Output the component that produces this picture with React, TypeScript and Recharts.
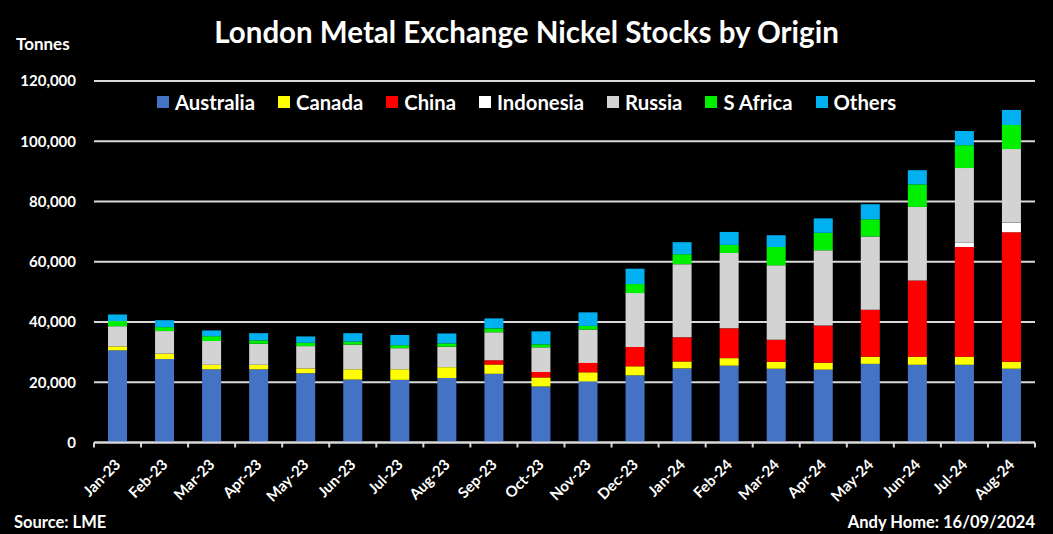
import React from "react";
import { BarChart, Bar, XAxis, YAxis, CartesianGrid } from "recharts";

const months = [
  "Jan-23", "Feb-23", "Mar-23", "Apr-23", "May-23", "Jun-23", "Jul-23", "Aug-23", "Sep-23", "Oct-23",
  "Nov-23", "Dec-23", "Jan-24", "Feb-24", "Mar-24", "Apr-24", "May-24", "Jun-24", "Jul-24", "Aug-24",
];
const australia = [30.6, 27.7, 24.3, 24.3, 23.0, 20.9, 20.8, 21.4, 22.8, 18.6, 20.3, 22.3, 24.6, 25.5, 24.5, 24.2, 26.1, 25.8, 25.8, 24.5];
const canada = [1.3, 1.8, 1.5, 1.5, 1.6, 3.4, 3.5, 3.6, 3.1, 3.0, 3.0, 3.0, 2.3, 2.5, 2.3, 2.3, 2.4, 2.7, 2.7, 2.3];
const china = [0, 0, 0, 0, 0, 0, 0, 0, 1.4, 1.8, 3.1, 6.4, 8.0, 9.9, 7.3, 12.3, 15.6, 25.3, 36.4, 43.0];
const indonesia = [0, 0, 0, 0, 0, 0, 0, 0, 0, 0, 0, 0, 0, 0, 0, 0, 0, 0, 1.4, 3.2];
const russia = [6.7, 7.5, 7.9, 7.0, 7.4, 8.2, 7.0, 6.8, 9.3, 8.2, 11.1, 17.9, 24.3, 25.0, 24.7, 25.0, 24.3, 24.4, 24.8, 24.4];
const sAfrica = [1.7, 1.3, 1.6, 1.1, 1.1, 1.0, 1.0, 1.1, 1.3, 1.0, 1.2, 3.0, 3.3, 2.7, 6.1, 5.8, 5.7, 7.5, 7.6, 8.0];
const others = [2.2, 2.3, 1.9, 2.4, 2.1, 2.8, 3.4, 3.3, 3.3, 4.3, 4.5, 5.1, 4.0, 4.3, 3.9, 4.8, 5.0, 4.7, 4.7, 5.0];
const yTicks = [0, 20000, 40000, 60000, 80000, 100000, 120000];

const seriesList = [
  { key: "Australia", values: australia, color: "#4472C4" },
  { key: "Canada", values: canada, color: "#FFFF00" },
  { key: "China", values: china, color: "#FF0000" },
  { key: "Indonesia", values: indonesia, color: "#FFFFFF" },
  { key: "Russia", values: russia, color: "#D3D3D3" },
  { key: "S Africa", values: sAfrica, color: "#00F000" },
  { key: "Others", values: others, color: "#00B0F0" },
];

const data = months.map((m, i) => {
  const row: Record<string, number | string> = { month: m };
  seriesList.forEach((s) => {
    row[s.key] = Math.round(s.values[i] * 1000);
  });
  return row;
});

const FONT = "Lato, 'Open Sans', sans-serif";
const AXIS_COLOR = "#D9D9D9";

const XTick = (props: any) => {
  const { x, y, payload, index, visibleTicksCount } = props;
  const half = payload.offset || 0;
  const axisY = y - 8;
  const isLast = index === (visibleTicksCount ? visibleTicksCount - 1 : months.length - 1);
  return (
    <g>
      <line x1={x - half} x2={x - half} y1={axisY} y2={axisY + 5} stroke={AXIS_COLOR} strokeWidth={2} />
      {isLast && (
        <line x1={x + half} x2={x + half} y1={axisY} y2={axisY + 5} stroke={AXIS_COLOR} strokeWidth={2} />
      )}
      <g transform={`translate(${x + 4},${axisY + 23})`}>
        <text
          x={0}
          y={0}
          textAnchor="end"
          transform="rotate(-45)"
          fill="#FFFFFF"
          fontFamily={FONT}
          fontWeight="bold"
          fontSize={15}
        >
          {payload.value}
        </text>
      </g>
    </g>
  );
};

const formatY = (v: number) => v.toLocaleString("en-US");

export default function App() {
  return (
    <div
      style={{
        position: "absolute",
        left: 0,
        top: 0,
        width: 1053,
        height: 534,
        background: "#000000",
        fontFamily: FONT,
        color: "#FFFFFF",
        overflow: "hidden",
      }}
    >
      <BarChart
        width={1053}
        height={534}
        data={data}
        margin={{ top: 81, right: 18, bottom: 0, left: 0 }}
        barSize={19}
      >
        <CartesianGrid vertical={false} stroke={AXIS_COLOR} strokeWidth={2} horizontalValues={yTicks} />
        <XAxis
          dataKey="month"
          height={91.5}
          interval={0}
          axisLine={{ stroke: AXIS_COLOR, strokeWidth: 2 }}
          tickLine={false}
          tick={<XTick />}
        />
        <YAxis
          width={94}
          domain={[0, 120000]}
          ticks={yTicks}
          tickFormatter={formatY}
          axisLine={false}
          tickLine={false}
          tickMargin={12}
          tick={{ fill: "#FFFFFF", fontFamily: FONT, fontWeight: "bold", fontSize: 15 }}
        />
        {seriesList.map((s) => (
          <Bar key={s.key} dataKey={s.key} stackId="a" fill={s.color} isAnimationActive={false} />
        ))}
      </BarChart>

      <div
        style={{
          position: "absolute",
          left: 0,
          top: 13,
          width: 1053,
          textAlign: "center",
          fontSize: 29.5,
          fontWeight: "bold",
          lineHeight: "38px",
        }}
      >
        London Metal Exchange Nickel Stocks by Origin
      </div>
      <div style={{ position: "absolute", left: 16, top: 33, fontSize: 17, fontWeight: "bold", lineHeight: "22px" }}>
        Tonnes
      </div>
      <div
        style={{
          position: "absolute",
          left: 157,
          top: 89,
          display: "flex",
          alignItems: "center",
          fontSize: 20.3,
          fontWeight: "bold",
          lineHeight: "26px",
        }}
      >
        {seriesList.map((s, i) => (
          <div key={s.key} style={{ display: "flex", alignItems: "center", marginRight: i < seriesList.length - 1 ? 23 : 0 }}>
            <div style={{ width: 12, height: 12, background: s.color, marginRight: 6 }} />
            <span>{s.key}</span>
          </div>
        ))}
      </div>
      <div style={{ position: "absolute", left: 14, top: 511, fontSize: 16.5, fontWeight: "bold", lineHeight: "22px" }}>
        Source: LME
      </div>
      <div style={{ position: "absolute", right: 18, top: 511, fontSize: 16.5, fontWeight: "bold", lineHeight: "22px" }}>
        Andy Home: 16/09/2024
      </div>
    </div>
  );
}
